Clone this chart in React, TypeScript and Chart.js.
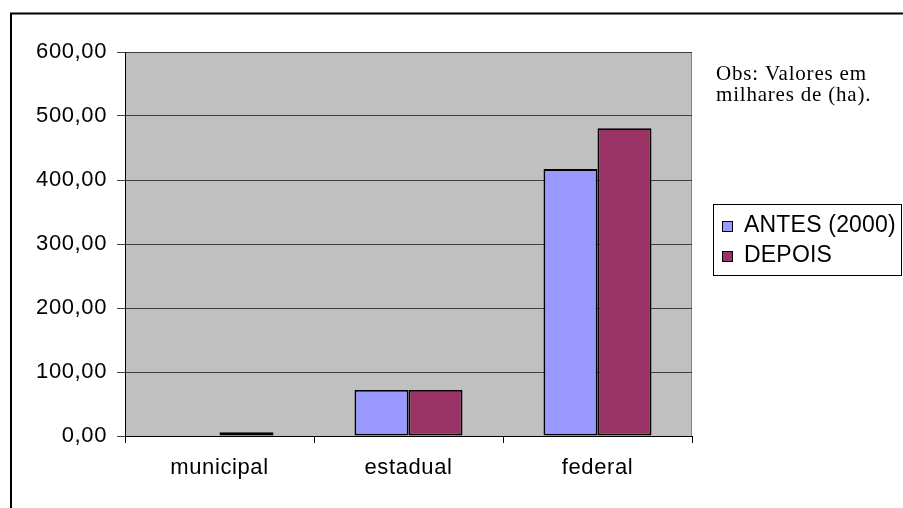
import React, { useEffect, useRef } from 'react';
import { Chart, registerables } from 'chart.js';

Chart.register(...registerables);

// Protected area (thousands of ha) by sphere of government
const categories = ['municipal', 'estadual', 'federal'];
const seriesNames = ['ANTES (2000)', 'DEPOIS'];
const antes = [0, 72, 417];
const depois = [6, 72, 481];
const seriesColors = ['#9999FF', '#993366'];
const yTicks = [0, 100, 200, 300, 400, 500, 600];
const noteLines = ['Obs: Valores em', 'milhares de (ha).'];

const SANS = '"Liberation Sans", Arial, sans-serif';
const SERIF = '"Liberation Serif", "Times New Roman", serif';

const fmt = (v: number) => v.toFixed(2).replace('.', ',');

// Grey plot background and the outer frame
const backdrop = {
  id: 'backdrop',
  beforeDraw(chart: any) {
    const { ctx, chartArea: a, width, height } = chart;
    ctx.save();
    ctx.fillStyle = '#ffffff';
    ctx.fillRect(0, 0, width, height);
    ctx.fillStyle = '#C0C0C0';
    ctx.fillRect(a.left, a.top, a.right - a.left, a.bottom - a.top);
    ctx.strokeStyle = '#808080';
    ctx.lineWidth = 1;
    ctx.strokeRect(a.left + 0.5, a.top + 0.5, a.right - a.left - 1, a.bottom - a.top);
    ctx.strokeStyle = '#000000';
    ctx.lineWidth = 2;
    ctx.beginPath();
    ctx.moveTo(11, height + 5);
    ctx.lineTo(11, 13.5);
    ctx.lineTo(width + 5, 13.5);
    ctx.stroke();
    ctx.restore();
    // slightly wider tracking for axis labels
    (ctx as any).letterSpacing = '0.6px';
  },
};

// Legend box and note text on the right
const sidePanel = {
  id: 'sidePanel',
  afterDraw(chart: any) {
    const { ctx } = chart;
    ctx.save();
    (ctx as any).letterSpacing = '0.2px';
    ctx.strokeStyle = '#000';
    ctx.lineWidth = 1;
    ctx.strokeRect(713.5, 204.5, 188, 71);
    ctx.font = `23px ${SANS}`;
    ctx.textAlign = 'left';
    ctx.textBaseline = 'alphabetic';
    chart.data.datasets.forEach((ds: any, i: number) => {
      const base = 232 + i * 30;
      ctx.fillStyle = ds.backgroundColor;
      ctx.fillRect(722, base - 11, 11, 11);
      ctx.strokeRect(722.5, base - 10.5, 10, 10);
      ctx.fillStyle = '#000';
      ctx.fillText(ds.label, 744, base);
    });
    (ctx as any).letterSpacing = '0.8px';
    ctx.font = `21px ${SERIF}`;
    noteLines.forEach((t, i) => ctx.fillText(t, 716, 80 + i * 21));
    ctx.restore();
  },
};

export default function App() {
  const ref = useRef<HTMLCanvasElement>(null);

  useEffect(() => {
    if (!ref.current) return;
    const chart = new Chart(ref.current, {
      type: 'bar',
      data: {
        labels: categories,
        datasets: [
          {
            label: seriesNames[0],
            data: antes,
            backgroundColor: seriesColors[0],
            borderColor: '#000',
            borderWidth: 1.8,
            borderSkipped: false,
          },
          {
            label: seriesNames[1],
            data: depois,
            backgroundColor: seriesColors[1],
            borderColor: '#000',
            borderWidth: 1.8,
            borderSkipped: false,
          },
        ],
      },
      options: {
        responsive: false,
        animation: false,
        devicePixelRatio: 1,
        layout: { padding: { top: 52, right: 211, bottom: 0, left: 0 } },
        datasets: { bar: { categoryPercentage: 0.5714, barPercentage: 1 } },
        plugins: { legend: { display: false }, tooltip: { enabled: false } },
        scales: {
          x: {
            afterFit: (s: any) => {
              s.height = 72;
            },
            ticks: { color: '#000', font: { family: SANS, size: 22 }, padding: 12 },
            grid: { drawOnChartArea: false, drawTicks: true, tickLength: 7, color: '#000', offset: true },
            border: { display: true, color: '#000', width: 1 },
          },
          y: {
            min: 0,
            max: 600,
            afterBuildTicks: (s: any) => {
              s.ticks = yTicks.map((v) => ({ value: v }));
            },
            afterFit: (s: any) => {
              s.width = 125;
            },
            ticks: {
              color: '#000',
              font: { family: SANS, size: 22 },
              padding: 10,
              callback: (v: any) => fmt(Number(v)),
            },
            grid: { color: '#404040', lineWidth: 1, tickLength: 8, drawTicks: true },
            border: { display: true, color: '#000', width: 1 },
          },
        },
      },
      plugins: [backdrop, sidePanel],
    });
    return () => chart.destroy();
  }, []);

  return (
    <div style={{ position: 'fixed', left: 0, top: 0, width: 903, height: 508, background: '#fff' }}>
      <canvas ref={ref} width={903} height={508} style={{ display: 'block' }} />
    </div>
  );
}
